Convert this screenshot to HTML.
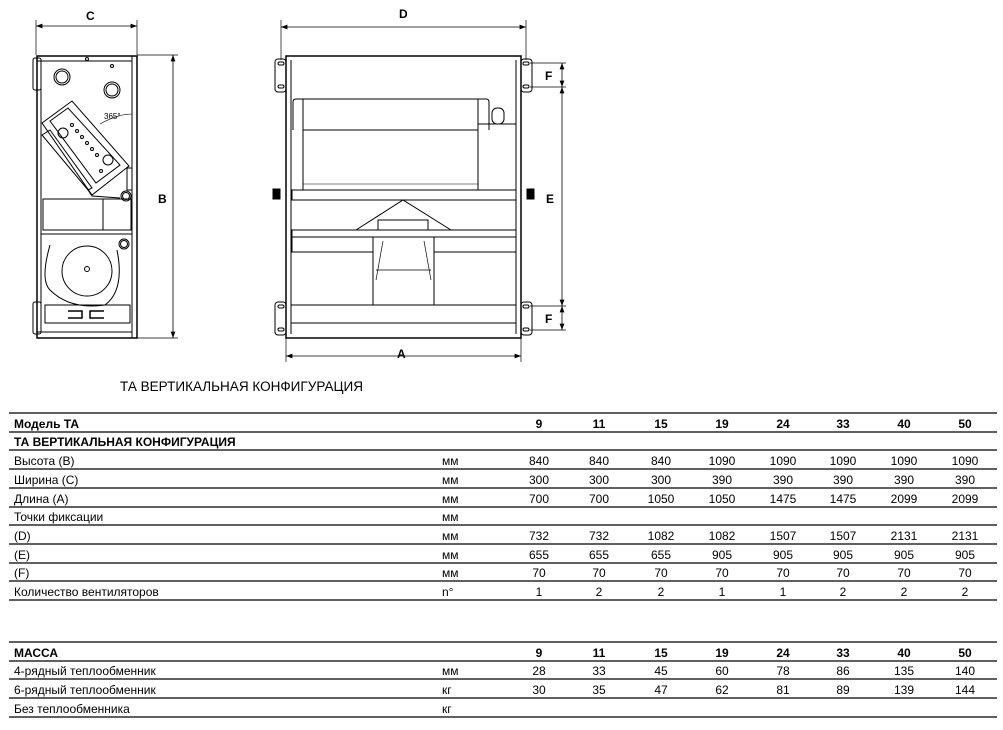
<!DOCTYPE html>
<html><head><meta charset="utf-8"><style>
html,body{margin:0;padding:0;background:#fff;}
svg{display:block;font-family:"Liberation Sans","DejaVu Sans",sans-serif;}
</style></head><body>
<svg width="1003" height="730" viewBox="0 0 1003 730" xmlns="http://www.w3.org/2000/svg">
<defs>
<marker id="ar" markerWidth="8" markerHeight="6" refX="8" refY="3" orient="auto-start-reverse"><path d="M0,0 L8,3 L0,6 z" fill="#000"/></marker>
</defs>
<g fill="none" stroke="#000" stroke-width="1">
<!-- LEFT VIEW -->
<line x1="36" y1="20" x2="36" y2="55" stroke-width="0.7"/>
<line x1="137" y1="20" x2="137" y2="55" stroke-width="0.7"/>
<line x1="36" y1="26" x2="137" y2="26" marker-start="url(#ar)" marker-end="url(#ar)" stroke-width="0.8"/>
<line x1="137" y1="55" x2="178" y2="55" stroke-width="0.7"/>
<line x1="137" y1="338" x2="178" y2="338" stroke-width="0.7"/>
<line x1="173" y1="55" x2="173" y2="338" marker-start="url(#ar)" marker-end="url(#ar)" stroke-width="0.8"/>
<rect x="37" y="56" width="100" height="282" stroke-width="1.5"/>
<line x1="37" y1="61" x2="132" y2="61"/>
<line x1="41" y1="61" x2="41" y2="332"/>
<line x1="132" y1="56" x2="132" y2="338"/>
<rect x="33" y="58" width="8" height="32" rx="2"/>
<rect x="33" y="302" width="8" height="32" rx="2"/>
<line x1="37" y1="332" x2="132" y2="332"/>
<circle cx="62" cy="77" r="8"/><circle cx="62" cy="77" r="6"/>
<circle cx="112" cy="90" r="8"/><circle cx="112" cy="90" r="6"/>
<circle cx="87" cy="59" r="1.5"/><circle cx="112" cy="66" r="1.5"/>
<polygon points="42,123 72,101 129,166 92,195"/>
<polygon points="50,121 68,108 120,165 96,183"/>
<polygon points="42,135 50,130 92,188 88,190" />
<circle cx="63" cy="133" r="5"/><circle cx="108" cy="160" r="5"/>
<circle cx="72" cy="125" r="1.5"/><circle cx="77" cy="131" r="1.5"/><circle cx="82" cy="137" r="1.5"/><circle cx="87" cy="143" r="1.5"/><circle cx="92" cy="149" r="1.5"/><circle cx="97" cy="155" r="1.5"/><circle cx="101" cy="171" r="1.5"/>
<path d="M100 124 Q118 114 132 114" stroke-width="0.6"/>
<rect x="127" y="168" width="5" height="22"/>
<circle cx="126" cy="196" r="5"/><circle cx="126" cy="196" r="3.5"/>
<path d="M88 190 L92 196 L120 198"/>
<rect x="43" y="199" width="60" height="31"/>
<rect x="103" y="199" width="28" height="31"/>
<line x1="41" y1="234" x2="132" y2="234"/>
<circle cx="87" cy="271" r="25"/>
<circle cx="87" cy="269" r="2.5"/>
<path d="M50 245 Q40 280 50 290 Q70 310 105 305 Q125 290 117 250"/>
<circle cx="124" cy="244" r="5"/><circle cx="124" cy="244" r="3.5"/>
<rect x="45" y="305" width="85" height="18"/>
<path d="M68 311 H82 V318 H68 M104 311 H90 V318 H104" stroke-width="1.5"/>
<!-- RIGHT VIEW -->
<line x1="281" y1="20" x2="281" y2="60" stroke-width="0.7"/>
<line x1="526" y1="20" x2="526" y2="60" stroke-width="0.7"/>
<line x1="281" y1="27" x2="526" y2="27" marker-start="url(#ar)" marker-end="url(#ar)" stroke-width="0.8"/>
<line x1="286" y1="338" x2="286" y2="362" stroke-width="0.7"/>
<line x1="521" y1="338" x2="521" y2="362" stroke-width="0.7"/>
<line x1="286" y1="356" x2="521" y2="356" marker-start="url(#ar)" marker-end="url(#ar)" stroke-width="0.8"/>
<line x1="530" y1="63" x2="566" y2="63" stroke-width="0.7"/>
<line x1="530" y1="87" x2="566" y2="87" stroke-width="0.7"/>
<line x1="530" y1="306" x2="566" y2="306" stroke-width="0.7"/>
<line x1="530" y1="330" x2="566" y2="330" stroke-width="0.7"/>
<line x1="562" y1="63" x2="562" y2="87" marker-start="url(#ar)" marker-end="url(#ar)" stroke-width="0.8"/>
<line x1="562" y1="87" x2="562" y2="306" marker-start="url(#ar)" marker-end="url(#ar)" stroke-width="0.8"/>
<line x1="562" y1="306" x2="562" y2="330" marker-start="url(#ar)" marker-end="url(#ar)" stroke-width="0.8"/>
<rect x="286" y="56" width="235" height="282" stroke-width="1.5"/>
<line x1="291" y1="60" x2="291" y2="334"/>
<line x1="516" y1="60" x2="516" y2="334"/>
<rect x="275" y="59" width="11" height="33" rx="3"/><rect x="275" y="302" width="11" height="33" rx="3"/>
<rect x="521" y="59" width="11" height="33" rx="3"/><rect x="521" y="302" width="11" height="33" rx="3"/>
<rect x="278" y="62" width="6" height="3" rx="1.5"/><rect x="278" y="85" width="6" height="3" rx="1.5"/>
<rect x="278" y="305" width="6" height="3" rx="1.5"/><rect x="278" y="328" width="6" height="3" rx="1.5"/>
<rect x="523" y="62" width="6" height="3" rx="1.5"/><rect x="523" y="85" width="6" height="3" rx="1.5"/>
<rect x="523" y="305" width="6" height="3" rx="1.5"/><rect x="523" y="328" width="6" height="3" rx="1.5"/>
<path d="M293 130 V102 Q293 99 296 99 H486 Q489 99 489 102 V130"/>
<line x1="303" y1="99" x2="303" y2="190"/><line x1="478" y1="99" x2="478" y2="190"/>
<line x1="303" y1="130" x2="478" y2="130"/>
<rect x="478" y="124" width="38" height="66"/>
<rect x="492" y="108" width="12" height="16" rx="5"/>
<line x1="303" y1="184" x2="478" y2="184" stroke-width="0.6"/>
<rect x="292" y="190" width="224" height="10"/>
<path d="M356 230 L403 200 L451 230"/>
<rect x="378" y="220" width="50" height="10"/>
<rect x="292" y="230" width="224" height="7"/>
<path d="M292 237 V252 H373 M434 252 H516 V237"/>
<path d="M373 237 V305 H434 V237"/>
<path d="M383 241 L376 280 M424 241 L431 280 M376 270 H431" stroke-width="0.7"/>
<rect x="291" y="305" width="225" height="18"/>
<rect x="273" y="189" width="7" height="10" fill="#000"/><rect x="527" y="189" width="7" height="10" fill="#000"/>
</g>
<g font-size="12" font-weight="bold" fill="#000">
<text x="86" y="20">C</text><text x="158" y="203">B</text>
<text x="399" y="18">D</text><text x="546" y="203">E</text>
<text x="545" y="80">F</text><text x="545" y="323">F</text>
<text x="397" y="358">A</text>
</g>
<text x="120" y="391" font-size="13.5" textLength="243" lengthAdjust="spacingAndGlyphs">ТА ВЕРТИКАЛЬНАЯ КОНФИГУРАЦИЯ</text>
<g stroke="#000" stroke-width="1.2">
<line x1="9" y1="413" x2="997" y2="413"/><line x1="9" y1="432" x2="997" y2="432"/>
<line x1="9" y1="450" x2="997" y2="450"/><line x1="9" y1="469" x2="997" y2="469"/>
<line x1="9" y1="488" x2="997" y2="488"/><line x1="9" y1="507" x2="997" y2="507"/>
<line x1="9" y1="525" x2="997" y2="525"/><line x1="9" y1="544" x2="997" y2="544"/>
<line x1="9" y1="563" x2="997" y2="563"/><line x1="9" y1="581" x2="997" y2="581"/>
<line x1="9" y1="600" x2="997" y2="600"/>
<line x1="9" y1="642" x2="997" y2="642"/><line x1="9" y1="661" x2="997" y2="661"/>
<line x1="9" y1="679" x2="997" y2="679"/><line x1="9" y1="698" x2="997" y2="698"/>
<line x1="9" y1="717" x2="997" y2="717"/>
</g>
<g font-size="12" fill="#000">
<text x="14" y="428" font-weight="bold">Модель ТА</text>
<text x="14" y="446" font-weight="bold">ТА ВЕРТИКАЛЬНАЯ КОНФИГУРАЦИЯ</text>
<text x="14" y="465">Высота (B)</text><text x="14" y="484">Ширина (C)</text>
<text x="14" y="503">Длина (A)</text><text x="14" y="521">Точки фиксации</text>
<text x="14" y="540">(D)</text><text x="14" y="559">(E)</text><text x="14" y="577">(F)</text>
<text x="14" y="596">Количество вентиляторов</text>
<text x="14" y="657" font-weight="bold">МАССА</text>
<text x="14" y="675">4-рядный теплообменник</text><text x="14" y="694">6-рядный теплообменник</text>
<text x="14" y="713">Без теплообменника</text>
<text x="442" y="465">мм</text><text x="442" y="484">мм</text><text x="442" y="503">мм</text>
<text x="442" y="521">мм</text><text x="442" y="540">мм</text><text x="442" y="559">мм</text>
<text x="442" y="577">мм</text><text x="442" y="596">n°</text>
<text x="442" y="675">мм</text><text x="442" y="694">кг</text><text x="442" y="713">кг</text>
</g>
<g font-size="12" fill="#000" text-anchor="middle">
<g font-weight="bold">
<text x="539" y="428">9</text><text x="599" y="428">11</text><text x="661" y="428">15</text><text x="722" y="428">19</text><text x="783" y="428">24</text><text x="843" y="428">33</text><text x="904" y="428">40</text><text x="965" y="428">50</text>
<text x="539" y="657">9</text><text x="599" y="657">11</text><text x="661" y="657">15</text><text x="722" y="657">19</text><text x="783" y="657">24</text><text x="843" y="657">33</text><text x="904" y="657">40</text><text x="965" y="657">50</text>
</g>
<text x="539" y="465">840</text><text x="599" y="465">840</text><text x="661" y="465">840</text><text x="722" y="465">1090</text><text x="783" y="465">1090</text><text x="843" y="465">1090</text><text x="904" y="465">1090</text><text x="965" y="465">1090</text>
<text x="539" y="484">300</text><text x="599" y="484">300</text><text x="661" y="484">300</text><text x="722" y="484">390</text><text x="783" y="484">390</text><text x="843" y="484">390</text><text x="904" y="484">390</text><text x="965" y="484">390</text>
<text x="539" y="503">700</text><text x="599" y="503">700</text><text x="661" y="503">1050</text><text x="722" y="503">1050</text><text x="783" y="503">1475</text><text x="843" y="503">1475</text><text x="904" y="503">2099</text><text x="965" y="503">2099</text>
<text x="539" y="540">732</text><text x="599" y="540">732</text><text x="661" y="540">1082</text><text x="722" y="540">1082</text><text x="783" y="540">1507</text><text x="843" y="540">1507</text><text x="904" y="540">2131</text><text x="965" y="540">2131</text>
<text x="539" y="559">655</text><text x="599" y="559">655</text><text x="661" y="559">655</text><text x="722" y="559">905</text><text x="783" y="559">905</text><text x="843" y="559">905</text><text x="904" y="559">905</text><text x="965" y="559">905</text>
<text x="539" y="577">70</text><text x="599" y="577">70</text><text x="661" y="577">70</text><text x="722" y="577">70</text><text x="783" y="577">70</text><text x="843" y="577">70</text><text x="904" y="577">70</text><text x="965" y="577">70</text>
<text x="539" y="596">1</text><text x="599" y="596">2</text><text x="661" y="596">2</text><text x="722" y="596">1</text><text x="783" y="596">1</text><text x="843" y="596">2</text><text x="904" y="596">2</text><text x="965" y="596">2</text>
<text x="539" y="675">28</text><text x="599" y="675">33</text><text x="661" y="675">45</text><text x="722" y="675">60</text><text x="783" y="675">78</text><text x="843" y="675">86</text><text x="904" y="675">135</text><text x="965" y="675">140</text>
<text x="539" y="694">30</text><text x="599" y="694">35</text><text x="661" y="694">47</text><text x="722" y="694">62</text><text x="783" y="694">81</text><text x="843" y="694">89</text><text x="904" y="694">139</text><text x="965" y="694">144</text>
</g>
<text x="104" y="119" font-size="8" fill="#000">365°</text>
</svg>
</body></html>
